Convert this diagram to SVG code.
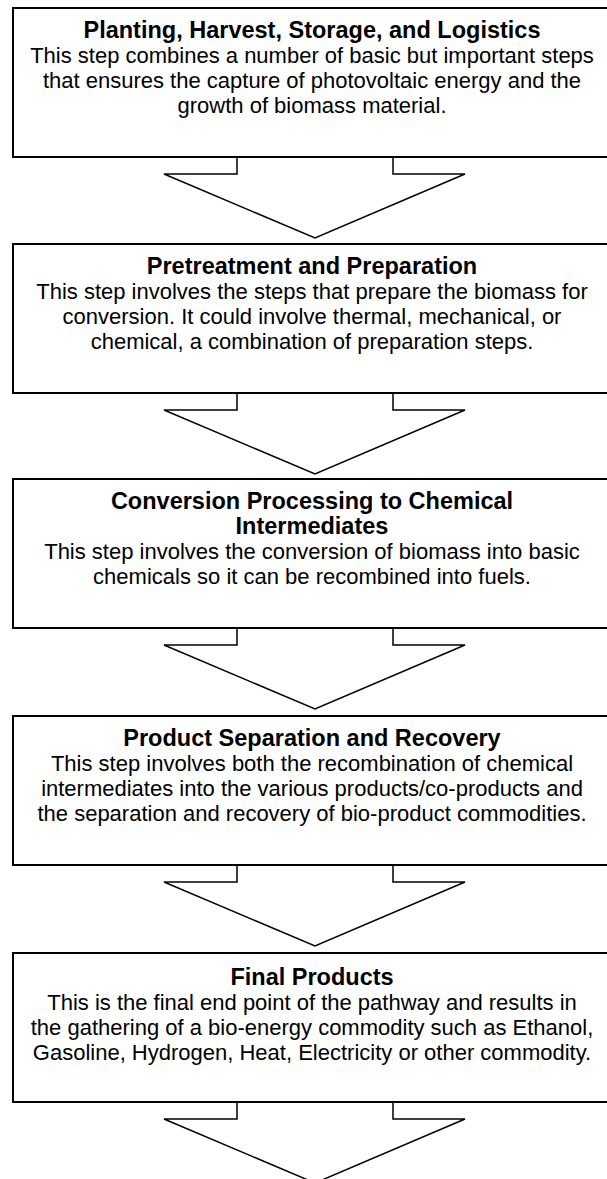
<svg xmlns="http://www.w3.org/2000/svg" width="607" height="1179" viewBox="0 0 607 1179">
<style>
.box{fill:#fff;stroke:#000;stroke-width:2}
.arr{fill:#fff;stroke:#000;stroke-width:1.5;stroke-linejoin:miter}
.t{font-family:"Liberation Sans",Arial,sans-serif;font-weight:bold;font-size:23.5px;text-anchor:middle;fill:#000}
.b{font-family:"Liberation Sans",Arial,sans-serif;font-size:22px;text-anchor:middle;fill:#000}
</style>
<rect width="607" height="1179" fill="#fff"/>
<g id="connectors">
<path class="arr" d="M237,157 V174 H164 L315,238 L465,174 H393 V157"/>
<path class="arr" d="M237,393 V410 H164 L315,474 L465,410 H393 V393"/>
<path class="arr" d="M237,628 V645 H164 L315,709 L465,645 H393 V628"/>
<path class="arr" d="M237,865 V882 H164 L315,946 L465,882 H393 V865"/>
<path class="arr" d="M237,1102 V1119 H164 L315,1183 L465,1119 H393 V1102"/>
</g>
<g id="n1">
<rect class="box" x="13" y="8" width="600" height="149"/>
<text class="t" x="312" y="38">Planting, Harvest, Storage, and Logistics</text>
<text class="b" x="312" y="63">This step combines a number of basic but important steps</text>
<text class="b" x="312" y="88">that ensures the capture of photovoltaic energy and the</text>
<text class="b" x="312" y="113">growth of biomass material.</text>
</g>
<g id="n2">
<rect class="box" x="13" y="244" width="600" height="149"/>
<text class="t" x="312" y="274">Pretreatment and Preparation</text>
<text class="b" x="312" y="299">This step involves the steps that prepare the biomass for</text>
<text class="b" x="312" y="324">conversion. It could involve thermal, mechanical, or</text>
<text class="b" x="312" y="349">chemical, a combination of preparation steps.</text>
</g>
<g id="n3">
<rect class="box" x="13" y="479" width="600" height="149"/>
<text class="t" x="312" y="509">Conversion Processing to Chemical</text>
<text class="t" x="312" y="534">Intermediates</text>
<text class="b" x="312" y="559">This step involves the conversion of biomass into basic</text>
<text class="b" x="312" y="584">chemicals so it can be recombined into fuels.</text>
</g>
<g id="n4">
<rect class="box" x="13" y="716" width="600" height="149"/>
<text class="t" x="312" y="746">Product Separation and Recovery</text>
<text class="b" x="312" y="771">This step involves both the recombination of chemical</text>
<text class="b" x="312" y="796">intermediates into the various products/co-products and</text>
<text class="b" x="312" y="821">the separation and recovery of bio-product commodities.</text>
</g>
<g id="n5">
<rect class="box" x="13" y="953" width="600" height="149"/>
<text class="t" x="312" y="985">Final Products</text>
<text class="b" x="312" y="1010">This is the final end point of the pathway and results in</text>
<text class="b" x="312" y="1035">the gathering of a bio-energy commodity such as Ethanol,</text>
<text class="b" x="312" y="1060">Gasoline, Hydrogen, Heat, Electricity or other commodity.</text>
</g>
</svg>
